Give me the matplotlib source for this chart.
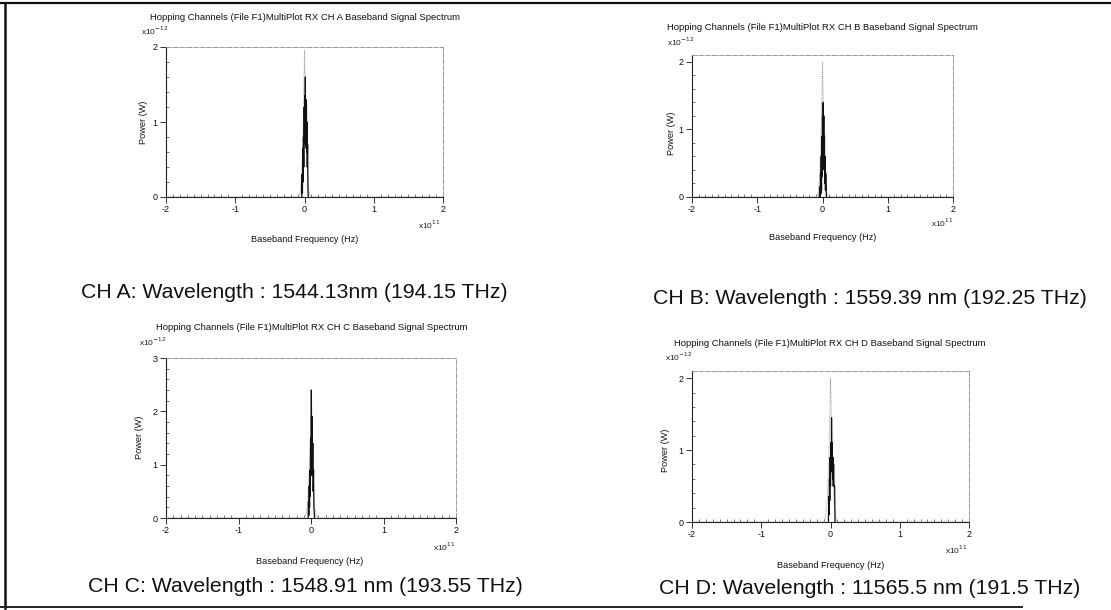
import matplotlib
matplotlib.use("Agg")
import matplotlib.pyplot as plt
from matplotlib.lines import Line2D

plt.rcParams['font.family'] = ['Liberation Sans', 'DejaVu Sans']

# ---------------- data (frequency in units of 1e11 Hz, power in units of 1e-12 W)
channels = ["A", "B", "C", "D"]
captions = [
    "CH A: Wavelength : 1544.13nm (194.15 THz)",
    "CH B: Wavelength : 1559.39 nm (192.25 THz)",
    "CH C: Wavelength : 1548.91 nm (193.55 THz)",
    "CH D: Wavelength : 11565.5 nm (191.5 THz)",
]
titles = [
    "Hopping Channels (File F1)MultiPlot RX CH A Baseband Signal Spectrum",
    "Hopping Channels (File F1)MultiPlot RX CH B Baseband Signal Spectrum",
    "Hopping Channels (File F1)MultiPlot RX CH C Baseband Signal Spectrum",
    "Hopping Channels (File F1)MultiPlot RX CH D Baseband Signal Spectrum",
]
y_max = [2.0, 2.1, 3.0, 2.1]
y_ticks = [[0, 1, 2], [0, 1, 2], [0, 1, 2, 3], [0, 1, 2]]
x_ticks = [-2, -1, 0, 1, 2]

# light envelope traces
env_x_A = [-2.0, -0.10, -0.07, -0.05, -0.03, -0.02, -0.01, 0.0, 0.01, 0.02, 0.03, 0.05, 0.07, 0.10, 2.0]
env_y_A = [0.0, 0.0, 0.03, 0.15, 0.55, 0.9, 1.4, 1.95, 1.5, 1.0, 0.6, 0.2, 0.04, 0.0, 0.0]
env_x_B = [-2.0, -0.10, -0.07, -0.05, -0.03, -0.02, -0.01, 0.0, 0.01, 0.02, 0.03, 0.05, 0.07, 0.10, 2.0]
env_y_B = [0.0, 0.0, 0.05, 0.2, 0.6, 1.0, 1.5, 2.0, 1.5, 1.0, 0.6, 0.25, 0.05, 0.0, 0.0]
env_x_C = [-2.0, -0.10, -0.07, -0.05, -0.03, -0.02, -0.01, 0.0, 0.01, 0.02, 0.03, 0.05, 0.07, 0.10, 2.0]
env_y_C = [0.0, 0.0, 0.05, 0.25, 0.7, 1.1, 1.5, 1.9, 1.5, 1.0, 0.6, 0.2, 0.05, 0.0, 0.0]
env_x_D = [-2.0, -0.10, -0.08, -0.05, -0.03, -0.02, -0.01, 0.0, 0.01, 0.02, 0.03, 0.05, 0.08, 0.10, 2.0]
env_y_D = [0.0, 0.0, 0.04, 0.25, 0.7, 1.1, 1.5, 2.0, 1.6, 1.1, 0.7, 0.3, 0.04, 0.0, 0.0]

# dark dense comb traces
comb_x_A = [-0.04, -0.035, -0.03, -0.025, -0.02, -0.015, -0.01, -0.005, 0.0, 0.004, 0.008, 0.012,
            0.016, 0.02, 0.024, 0.028, 0.032, 0.036, 0.04, 0.045, 0.05, 0.055]
comb_y_A = [0.0, 0.3, 0.05, 0.65, 0.2, 0.8, 0.4, 1.2, 0.7, 1.35, 0.75, 1.6, 0.8, 1.3, 0.65,
            1.25, 0.6, 1.0, 0.4, 0.7, 0.1, 0.0]
comb_x_B = [-0.05, -0.04, -0.035, -0.03, -0.025, -0.02, -0.015, -0.01, -0.005, 0.0, 0.005, 0.01, 0.015,
            0.02, 0.025, 0.03, 0.035, 0.04, 0.045, 0.05, 0.06]
comb_y_B = [0.0, 0.15, 0.0, 0.35, 0.05, 0.6, 0.1, 0.9, 0.3, 1.2, 0.5, 1.4, 0.6, 1.2, 0.4, 0.9, 0.2,
            0.6, 0.1, 0.35, 0.0]
comb_x_C = [-0.04, -0.035, -0.03, -0.025, -0.02, -0.015, -0.01, -0.005, 0.0, 0.005, 0.01, 0.015,
            0.02, 0.025, 0.03, 0.035, 0.04, 0.05]
comb_y_C = [0.0, 0.3, 0.05, 0.6, 0.2, 0.9, 0.4, 1.5, 0.8, 2.4, 0.9, 1.9, 0.8, 1.4, 0.5, 0.9, 0.2, 0.0]
comb_x_D = [-0.03, -0.025, -0.02, -0.015, -0.01, -0.005, 0.0, 0.005, 0.01, 0.015,
            0.02, 0.025, 0.03, 0.035, 0.04, 0.045, 0.05, 0.055, 0.06, 0.065]
comb_y_D = [0.0, 0.35, 0.1, 0.6, 0.3, 0.9, 0.5, 1.1, 0.7, 1.45, 0.9, 1.1, 0.6, 0.9, 0.5, 0.8,
            0.5, 0.5, 0.5, 0.0]

env_x = [env_x_A, env_x_B, env_x_C, env_x_D]
env_y = [env_y_A, env_y_B, env_y_C, env_y_D]
comb_x = [comb_x_A, comb_x_B, comb_x_C, comb_x_D]
comb_y = [comb_y_A, comb_y_B, comb_y_C, comb_y_D]

# ---------------- layout (pixel positions in a 1111 x 610 canvas)
W, H = 1111, 610
fig = plt.figure(figsize=(W / 100, H / 100), dpi=100)
fig.patch.set_facecolor("white")

def fx(px):
    return px / W

def fy(py):
    return 1 - py / H

# axes boxes: left, right, top, bottom (pixels)
boxes = [(166, 443, 47, 197), (692, 953, 55, 197), (166, 456, 358, 518), (692, 969, 371, 522)]
title_pos = [(305, 17), (822, 28), (312, 327), (830, 343)]
exp_y_pos = [(141, 31), (667, 42), (139, 342), (665, 357)]
exp_x_pos = [(440, 225), (953, 223), (455, 547), (967, 550)]
xlabel_pos = [(305, 239), (823, 237), (310, 562), (831, 565)]
ylabel_pos = [(143, 122), (671, 133), (139, 437), (665, 450)]
caption_pos = [(294, 292), (870, 299), (305, 587), (870, 588)]

tick_fs = 6.5
title_fs = 6.8
label_fs = 6.6
for i in range(4):
    l, r, t, b = boxes[i]
    ax = fig.add_axes([fx(l), fy(b), fx(r - l), (b - t) / H])
    ax.plot(env_x[i], env_y[i], color="#9a9a9a", lw=0.7, ls=(0, (1, 1)))
    ax.plot(comb_x[i], comb_y[i], color="#111111", lw=0.9)
    ax.set_xlim(-2, 2)
    ax.set_ylim(0, y_max[i])
    ax.set_xticks(x_ticks)
    ax.set_xticklabels([str(v) for v in x_ticks])
    ax.set_yticks(y_ticks[i])
    ax.set_yticklabels([str(v) for v in y_ticks[i]])
    ax.set_xticks([v / 10 for v in range(-20, 21) if v % 10 != 0], minor=True)
    ax.set_yticks([v / 5 for v in range(0, int(y_max[i] * 5) + 1) if v % 5 != 0], minor=True)
    ax.tick_params(axis="both", which="major", direction="out", length=4, width=0.6,
                   labelsize=tick_fs, pad=2, colors="#111111")
    ax.tick_params(axis="both", which="minor", direction="in", length=2, width=0.5, colors="#444444")
    for side in ["left", "bottom"]:
        ax.spines[side].set_color("#222222")
        ax.spines[side].set_linewidth(0.8)
    for side in ["top", "right"]:
        ax.spines[side].set_color("#8a8a8a")
        ax.spines[side].set_linewidth(0.6)
        ax.spines[side].set_linestyle((0, (6, 2)))

    tx, ty = title_pos[i]
    fig.text(fx(tx), fy(ty), titles[i], ha="center", va="center", fontsize=title_fs, color="#111111")
    ex, ey = exp_y_pos[i]
    fig.text(fx(ex), fy(ey), r"x10$^{-12}$", ha="left", va="center", fontsize=tick_fs - 0.5, color="#222222")
    ex, ey = exp_x_pos[i]
    fig.text(fx(ex), fy(ey), r"x10$^{11}$", ha="right", va="center", fontsize=tick_fs - 0.5, color="#222222")
    lx, ly = xlabel_pos[i]
    fig.text(fx(lx), fy(ly), "Baseband Frequency (Hz)", ha="center", va="center", fontsize=label_fs, color="#111111")
    yx, yy = ylabel_pos[i]
    fig.text(fx(yx), fy(yy), "Power (W)", ha="center", va="center", rotation=90, fontsize=label_fs, color="#111111")
    cx, cy = caption_pos[i]
    fig.text(fx(cx), fy(cy), captions[i], ha="center", va="center", fontsize=15.3, color="#111111")

# outer scan border
fig.add_artist(Line2D([fx(5), fx(5)], [fy(4), fy(608)], color="#111111", lw=1.8))
fig.add_artist(Line2D([fx(0), fx(1111)], [fy(3), fy(3)], color="#111111", lw=1.6))
fig.add_artist(Line2D([fx(0), fx(1022)], [fy(607), fy(607)], color="#222222", lw=1.4))

fig.savefig("out.png", dpi=100, facecolor="white")
